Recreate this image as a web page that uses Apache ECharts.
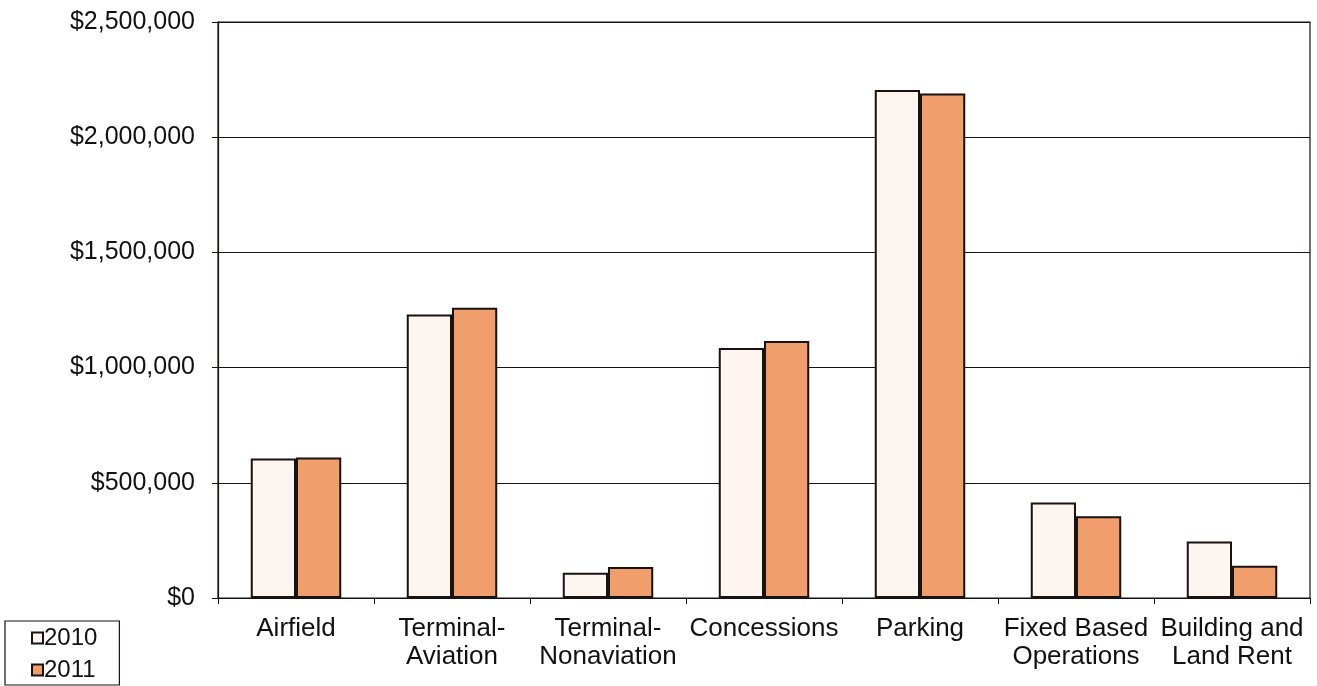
<!DOCTYPE html>
<html>
<head>
<meta charset="utf-8">
<script src="https://cdn.jsdelivr.net/npm/echarts@6/dist/echarts.min.js"></script>
<style>
  html, body { margin: 0; padding: 0; background: #ffffff; }
  #chart { width: 1317px; height: 686px; }
</style>
</head>
<body>
<div id="chart"></div>
<script>
// Airport revenue by cost centre, 2010 vs 2011
const categories = [
  'Airfield',
  'Terminal-\nAviation',
  'Terminal-\nNonaviation',
  'Concessions',
  'Parking',
  'Fixed Based\nOperations',
  'Building and\nLand Rent'
];
const revenue2010 = [605000, 1230000, 110000, 1085000, 2205000, 415000, 245000];
const revenue2011 = [610000, 1260000, 135000, 1115000, 2190000, 355000, 140000];
const yTicks = [0, 500000, 1000000, 1500000, 2000000, 2500000];

const FONT = '"Liberation Sans", Arial, sans-serif';
const INK = '#1a1111';

function money(v) {
  return '$' + v.toString().replace(/\B(?=(\d{3})+(?!\d))/g, ',');
}

const chart = echarts.init(document.getElementById('chart'), null, { renderer: 'canvas' });

chart.setOption({
  animation: false,
  backgroundColor: '#ffffff',
  textStyle: { fontFamily: FONT },
  grid: {
    left: 218, right: 7, top: 22, bottom: 88,
    show: true, borderColor: INK, borderWidth: 1.2, backgroundColor: 'transparent'
  },
  legend: {
    orient: 'vertical',
    left: 5, top: 621,
    padding: [5, 22, 3, 26],
    itemGap: 8,
    itemWidth: 11, itemHeight: 11,
    borderColor: INK, borderWidth: 1.2,
    icon: 'rect',
    textStyle: { fontFamily: FONT, fontSize: 24, color: '#111', padding: [0, 0, 0, -4] },
    data: ['2010', '2011']
  },
  xAxis: {
    type: 'category',
    data: categories,
    axisLine: { show: true, lineStyle: { color: INK, width: 1.2 } },
    axisTick: { show: true, alignWithLabel: false, length: 6, lineStyle: { color: INK } },
    axisLabel: {
      interval: 0, margin: 17, color: '#111',
      fontFamily: FONT, fontSize: 26, lineHeight: 28
    },
    splitLine: { show: false }
  },
  yAxis: {
    type: 'value',
    min: yTicks[0], max: yTicks[yTicks.length - 1], interval: yTicks[1] - yTicks[0],
    axisLine: { show: true, lineStyle: { color: INK, width: 1.2 } },
    axisTick: { show: true, length: 6, lineStyle: { color: INK } },
    axisLabel: {
      margin: 23, color: '#111',
      fontFamily: FONT, fontSize: 25,
      formatter: money
    },
    splitLine: { show: true, lineStyle: { color: INK, width: 1.1 } }
  },
  series: [
    {
      name: '2010', type: 'bar', data: revenue2010,
      barGap: '0%', barCategoryGap: '42%',
      itemStyle: { color: '#fdf5f0', borderColor: INK, borderWidth: 2 }
    },
    {
      name: '2011', type: 'bar', data: revenue2011,
      itemStyle: { color: '#ef9e6c', borderColor: INK, borderWidth: 2 }
    }
  ]
});
</script>
</body>
</html>
